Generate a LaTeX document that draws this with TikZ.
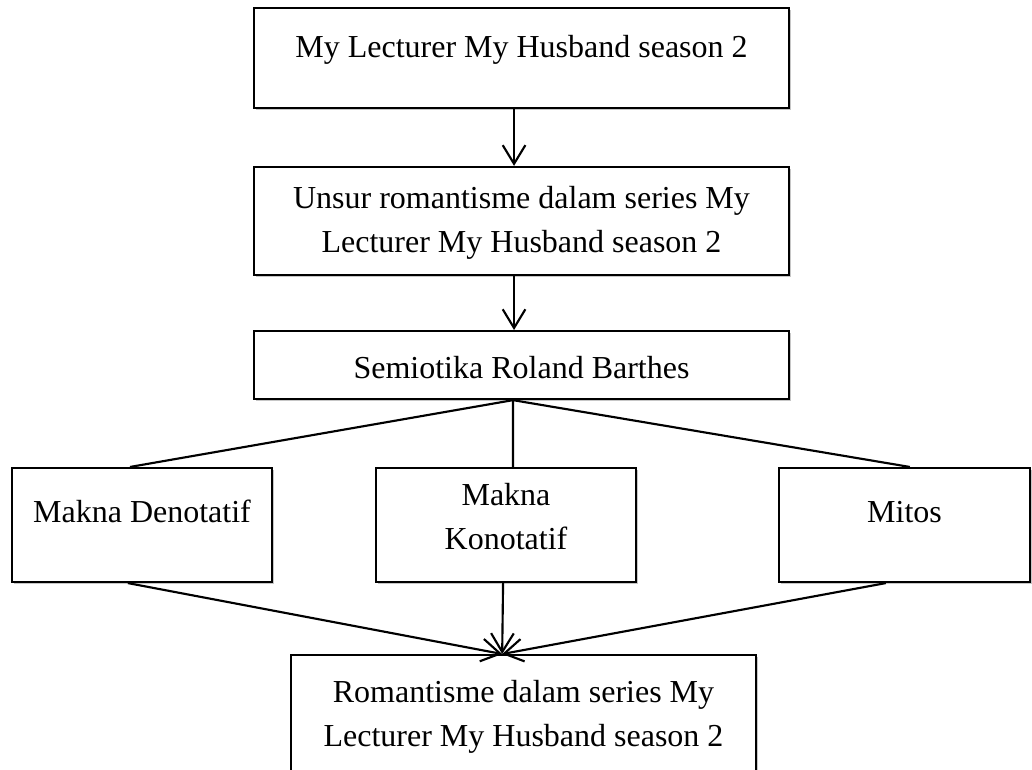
\documentclass[tikz,border=0pt]{standalone}
\usepackage{fontspec}
\setmainfont{Liberation Serif}
\usetikzlibrary{arrows.meta,shadows}

\begin{document}
\begin{tikzpicture}[x=0.375pt, y=-0.375pt,
  box/.style={draw, line width=0.8pt, fill=white, align=center, inner sep=0pt,
              font=\fontsize{12}{16.5}\selectfont, anchor=base,
              drop shadow={shadow xshift=0.9pt, shadow yshift=-0.9pt, fill=black!50, opacity=0.45}},
  arr/.style={line width=0.8pt, -{Straight Barb[length=7pt, width=8.5pt]}},
  link/.style={line width=0.8pt}
]
\path[clip, use as bounding box] (0,0) rectangle (1032,769);

\node[box, minimum width=200.6pt, text height=18.4pt, text depth=19.1pt] (film) at (521.5,57)
  {My Lecturer My Husband season 2};
\node[box, minimum width=200.6pt, text height=31.9pt, text depth=8.6pt] (unsur) at (521.5,252)
  {Unsur romantisme dalam series My\\Lecturer My Husband season 2};
\node[box, minimum width=200.6pt, text height=17.6pt, text depth=7.9pt] (semiotika) at (521.5,378)
  {Semiotika Roland Barthes};
\node[box, minimum width=97.5pt, text height=20.25pt, text depth=22.5pt] (denotatif) at (142,522)
  {Makna Denotatif};
\node[box, minimum width=97.5pt, text height=30.4pt, text depth=12.4pt] (konotatif) at (506,549)
  {Makna\\Konotatif};
\node[box, minimum width=94.1pt, text height=20.25pt, text depth=22.5pt] (mitos) at (904.5,522)
  {Mitos};
\node[box, minimum width=174.4pt, text height=34.1pt, text depth=10.1pt] (hasil) at (523.5,746)
  {Romantisme dalam series My\\Lecturer My Husband season 2};

\draw[arr] ([xshift=-2.8pt]film.south) -- ([xshift=-2.8pt]unsur.north);
\draw[arr] ([xshift=-2.8pt]unsur.south) -- ([xshift=-2.8pt]semiotika.north);

\coordinate (cabang) at ([xshift=-3.2pt]semiotika.south);
\draw[link] (cabang) -- ([xshift=-4.5pt]denotatif.north);
\draw[link] (cabang) -- ([xshift=2.6pt]konotatif.north);
\draw[link] (cabang) -- ([xshift=2pt]mitos.north);

\coordinate (temu) at ([xshift=-8pt]hasil.north);
\draw[arr] ([xshift=-5.3pt]denotatif.south) -- (temu);
\draw[arr] ([xshift=-1.1pt]konotatif.south) -- (temu);
\draw[arr] ([xshift=-7pt]mitos.south) -- (temu);
\end{tikzpicture}
\end{document}
